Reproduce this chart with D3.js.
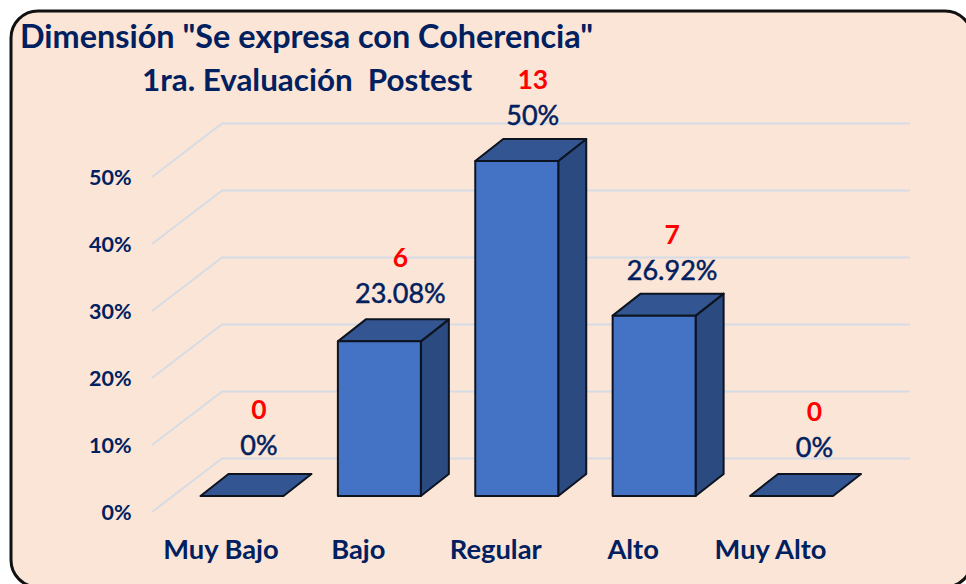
<!DOCTYPE html>
<html><head><meta charset="utf-8">
<script src="https://cdn.jsdelivr.net/npm/d3@7/dist/d3.min.js"></script>
<style>html,body{margin:0;padding:0;background:#fff}svg{display:block}text{font-family:Lato,"Open Sans",sans-serif;font-weight:700}</style>
</head><body><svg id="c" width="966" height="584"></svg>
<script>
const categories = ["Muy Bajo","Bajo","Regular","Alto","Muy Alto"];
const percents = [0,23.08,50,26.92,0];
const percentLabels = ["0%","23.08%","50%","26.92%","0%"];
const counts = [0,6,13,7,0];
const ticks = [0,10,20,30,40,50];
const titleLines = ['Dimensión "Se expresa con Coherencia"','1ra. Evaluación  Postest'];

const navy="#002060", grid="#D6DCE5";
const depthX=28, depthY=22;
const labelShift=[17,21,16,18,23], labelLift=[50,48,45,45,48];
const svg=d3.select("#c");
svg.append("rect").attr("x",11).attr("y",11).attr("width",961).attr("height",576).attr("rx",27).attr("fill","#FBE5D6").attr("stroke","#111").attr("stroke-width",3);

const x=d3.scaleBand().domain(categories).range([200.5,833]).paddingInner(0.396).paddingOuter(0);
const y=d3.scaleLinear().domain([0,50]).range([496,161]);
const bw=x.bandwidth();

// walls + gridlines
const g=svg.append("g").attr("fill","none").attr("stroke",grid).attr("stroke-width",2);
g.selectAll("path").data(ticks).join("path")
 .attr("d",d=>`M152,${y(d)+16}L222,${y(d)-37.5}L910,${y(d)-37.5}`);

// y tick labels
svg.append("g").selectAll("text").data(ticks).join("text")
 .attr("x",131.5).attr("y",d=>y(d)+16.5).attr("dy","0.35em").attr("text-anchor","end")
 .attr("font-size",21.5).attr("fill",navy).text(d=>d+"%");

// bars
const bars=svg.append("g").attr("stroke","#0d1420").attr("stroke-width",2).attr("stroke-linejoin","round");
categories.forEach((c,i)=>{
  const l=x(c), r=l+bw, t=y(percents[i]), b=y(0);
  if(percents[i]>0){
    bars.append("path").attr("fill","#2B4A80").attr("d",`M${r},${t}L${r+depthX},${t-depthY}L${r+depthX},${b-depthY}L${r},${b}Z`);
  }
  bars.append("path").attr("fill","#335592").attr("d",`M${l},${t}L${l+depthX},${t-depthY}L${r+depthX},${t-depthY}L${r},${t}Z`);
  if(percents[i]>0){
    bars.append("rect").attr("x",l).attr("y",t).attr("width",bw).attr("height",b-t).attr("fill","#4472C4");
  }
});

// data labels
categories.forEach((c,i)=>{
  const cx=x(c)+bw/2+labelShift[i], py=y(percents[i])-labelLift[i];
  svg.append("text").attr("x",cx).attr("y",py).attr("dy","0.35em").attr("text-anchor","middle")
    .attr("font-size",27).attr("style","font-weight:400").attr("stroke",navy).attr("stroke-width",0.5).attr("fill",navy).text(percentLabels[i]);
  svg.append("text").attr("x",cx).attr("y",py-36).attr("dy","0.35em").attr("text-anchor","middle")
    .attr("font-size",26.5).attr("fill","#FF0000").text(counts[i]);
});

// categories
svg.append("g").selectAll("text").data(categories).join("text")
 .attr("x",d=>x(d)+bw/2-21).attr("y",549).attr("dy","0.35em").attr("text-anchor","middle")
 .attr("font-size",27.3).attr("fill",navy).text(d=>d);

// title
svg.append("text").attr("x",20).attr("y",48).attr("font-size",32.4).attr("fill",navy).text(titleLines[0]);
svg.append("text").attr("x",142).attr("y",91).attr("font-size",31.4).style("white-space","pre").attr("fill",navy).text(titleLines[1]);
</script></body></html>
